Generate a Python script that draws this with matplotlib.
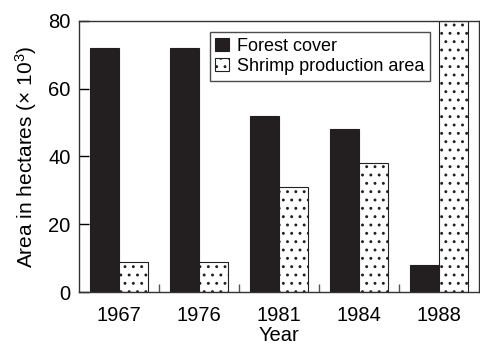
import matplotlib
matplotlib.use("Agg")
import matplotlib.pyplot as plt
import numpy as np

years = ["1967", "1976", "1981", "1984", "1988"]
forest_cover = [72, 72, 52, 48, 8]
shrimp_area = [9, 9, 31, 38, 80]

plt.rcParams["font.family"] = ["Liberation Sans", "DejaVu Sans"]
plt.rcParams["mathtext.default"] = "regular"
plt.rcParams["hatch.linewidth"] = 0.9

fig = plt.figure(figsize=(4.8, 3.47), dpi=100)
ax = fig.add_axes([0.1646, 0.1585, 0.8334, 0.781])

x = np.arange(len(years))
w = 0.3625
ax.bar(x - w / 2, forest_cover, w, color="#231f20", edgecolor="#231f20", linewidth=0.8,
       label="Forest cover")
ax.bar(x + w / 2, shrimp_area, w, color="white", edgecolor="#231f20", linewidth=0.8,
       hatch="..", label="Shrimp production area")

ax.set_xlim(-0.5, len(years) - 0.5)
ax.set_ylim(0, 80)
ax.set_yticks([0, 20, 40, 60, 80])
ax.set_xticks(x)
ax.set_xticklabels(years)
ax.set_xticks(x[:-1] + 0.5, minor=True)
ax.tick_params(axis="x", which="major", length=0, pad=10, labelsize=14.5)
ax.tick_params(axis="x", which="minor", direction="in", length=6, width=1, color="#555555")
ax.tick_params(axis="y", direction="in", length=7, width=1, labelsize=14.5, pad=6)
for s in ax.spines.values():
    s.set_linewidth(1.0)
    s.set_color("#333333")

ax.set_xlabel("Year", fontsize=14.5, labelpad=1)
ax.set_ylabel("Area in hectares (× 10$^3$)", fontsize=15, labelpad=7)

leg = ax.legend(loc="upper left", bbox_to_anchor=(0.3275, 0.959), borderaxespad=0,
                fontsize=13, frameon=True, fancybox=False, handlelength=0.75,
                handleheight=0.75, handletextpad=0.45, labelspacing=0.2, borderpad=0.3)
leg.get_frame().set_edgecolor("#231f20")
leg.get_frame().set_linewidth(1.0)

fig.savefig("out.png", dpi=100)
